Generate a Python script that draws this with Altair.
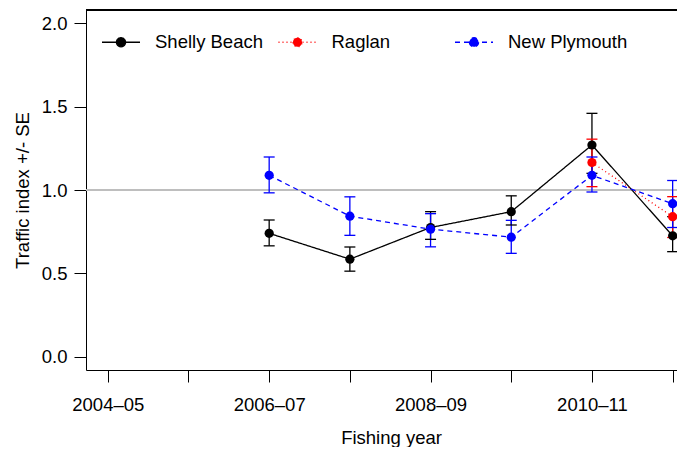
import altair as alt
import pandas as pd

years = ["2004–05", "2005–06", "2006–07", "2007–08", "2008–09", "2009–10", "2010–11", "2011–12"]
series = ["Shelly Beach", "Raglan", "New Plymouth"]
colors = ["#000000", "#ff0000", "#0000ff"]
dashes = [[1, 0], [1, 3], [5, 4]]

shelly_idx = [3, 4, 5, 6, 7, 8]
shelly_val = [0.74, 0.585, 0.775, 0.87, 1.27, 0.725]
shelly_lo = [0.665, 0.513, 0.704, 0.79, 1.10, 0.63]
shelly_hi = [0.82, 0.658, 0.87, 0.965, 1.46, 0.84]

raglan_idx = [7, 8]
raglan_val = [1.165, 0.84]
raglan_lo = [1.02, 0.715]
raglan_hi = [1.305, 0.96]

np_idx = [3, 4, 5, 6, 7, 8]
np_val = [1.088, 0.843, 0.765, 0.717, 1.088, 0.918]
np_lo = [0.983, 0.728, 0.659, 0.62, 0.988, 0.775]
np_hi = [1.198, 0.959, 0.858, 0.818, 1.198, 1.057]

y_ticks = [0, 0.5, 1.0, 1.5, 2.0]

rows = []
for name, idx, val, lo, hi in [
    ("Shelly Beach", shelly_idx, shelly_val, shelly_lo, shelly_hi),
    ("Raglan", raglan_idx, raglan_val, raglan_lo, raglan_hi),
    ("New Plymouth", np_idx, np_val, np_lo, np_hi),
]:
    for i, v, l, h in zip(idx, val, lo, hi):
        rows.append({"series": name, "x": i, "value": v, "lo": l, "hi": h})
df = pd.DataFrame(rows)

FONT = "Liberation Sans, Arial, Helvetica, sans-serif"
FS = 18.5

label_arr = "[" + ",".join("'" + y + "'" for y in years) + "]"
x_label_expr = f"datum.value % 2 == 1 ? {label_arr}[datum.value - 1] : ''"

xscale = alt.Scale(domain=[0.73, 8.054], nice=False, zero=False)
yscale = alt.Scale(domain=[-0.08, 2.08], nice=False, zero=False)

xaxis = alt.Axis(values=list(range(1, len(years) + 1)), labelExpr=x_label_expr,
                 tickSize=12, labelPadding=13, grid=False, title="Fishing year",
                 titleX=305, titleY=73, titleBaseline="alphabetic",
                 labelOverlap=False)
yaxis = alt.Axis(values=y_ticks, format=".1f", tickSize=12, labelPadding=7,
                 grid=False, title="Traffic index +/- SE", titleX=-58,
                 titleBaseline="alphabetic")

X = alt.X("x:Q", scale=xscale, axis=xaxis)
Y = alt.Y("value:Q", scale=yscale, axis=yaxis)

stroke_enc = alt.Stroke("series:N", scale=alt.Scale(domain=series, range=colors), title=None)
fill_enc = alt.Fill("series:N", scale=alt.Scale(domain=series, range=colors), title=None)
dash_enc = alt.StrokeDash("series:N", scale=alt.Scale(domain=series, range=dashes), title=None)

base = alt.Chart(df)

ref = alt.Chart(df).mark_rule(color="#bebebe", strokeWidth=1.2).encode(y=alt.datum(1.0, scale=yscale))
top = alt.Chart(df).mark_rule(color="black", strokeWidth=1).encode(y=alt.value(0))

lines = base.mark_line(strokeWidth=1.3).encode(
    x=X, y=Y, stroke=stroke_enc, strokeDash=dash_enc, order="x:Q", detail="series:N")
bars = base.mark_rule(strokeWidth=1.3).encode(
    x=alt.X("x:Q", scale=xscale), y=alt.Y("lo:Q", scale=yscale), y2="hi:Q", stroke=stroke_enc)
cap_lo = base.mark_tick(orient="horizontal", size=11, thickness=1.3, opacity=1).encode(
    x=alt.X("x:Q", scale=xscale), y=alt.Y("lo:Q", scale=yscale), fill=fill_enc)
cap_hi = base.mark_tick(orient="horizontal", size=11, thickness=1.3, opacity=1).encode(
    x=alt.X("x:Q", scale=xscale), y=alt.Y("hi:Q", scale=yscale), fill=fill_enc)
points = base.mark_circle(size=85, opacity=1).encode(
    x=alt.X("x:Q", scale=xscale), y=alt.Y("value:Q", scale=yscale), fill=fill_enc)

sym = "M-1,0H1M-0.24,0A0.24,0.24,0,1,0,0.24,0A0.24,0.24,0,1,0,-0.24,0Z"

chart = alt.layer(ref, top, lines, bars, cap_lo, cap_hi, points).properties(
    width=591, height=360, autosize="none",
    padding={"left": 78, "top": 2, "right": 0, "bottom": 77},
).configure_view(stroke=None).configure_axis(
    labelFont=FONT, labelFontSize=FS, labelColor="black",
    titleFont=FONT, titleFontSize=FS, titleColor="black", titleFontWeight="normal",
    domainColor="black", domainWidth=1, tickColor="black", tickWidth=1,
).configure_legend(
    orient="none", legendX=15, legendY=12, direction="horizontal", columns=3,
    gridAlign="all", columnPadding=0.5, padding=0, rowPadding=0,
    symbolType=sym, symbolSize=1444, symbolStrokeWidth=1.3,
    labelFont=FONT, labelFontSize=FS, labelColor="black", labelOffset=14, labelLimit=400,
)

chart.save("out.html", embed_options={"renderer": "svg", "actions": False})
